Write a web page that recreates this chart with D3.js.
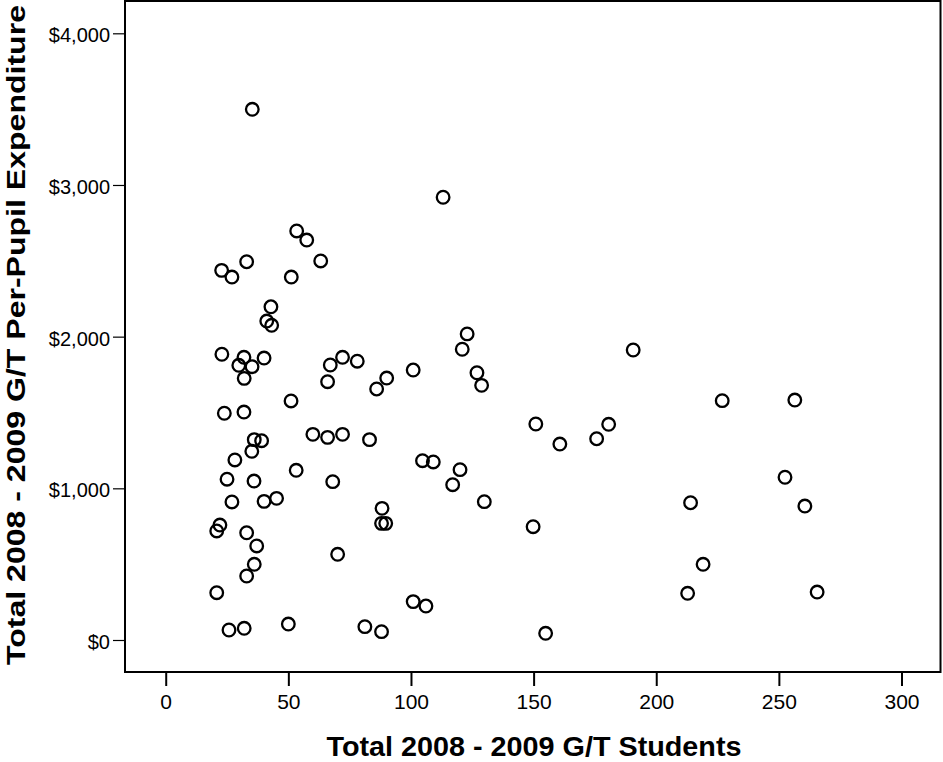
<!DOCTYPE html>
<html>
<head>
<meta charset="utf-8">
<script src="https://cdn.jsdelivr.net/npm/d3@7"></script>
<style>
  body { margin: 0; background: #fff; }
  text { font-family: Arial, "Liberation Sans", sans-serif; fill: #000; }
</style>
</head>
<body>
<div id="chart"></div>
<script>
// G/T students (x) and per-pupil expenditure in dollars (y)
var students = [
    35.3, 113.1, 53.4, 57.5, 33.0, 63.2, 22.8, 27.0, 51.2, 42.9,
    41.2, 43.2, 122.9, 120.9, 190.6, 22.9, 31.9, 40.1, 29.8, 35.2,
    32.0, 67.1, 72.1, 78.1, 66.0, 90.1, 86.0, 100.9, 126.9, 128.8,
    51.1, 23.9, 31.9, 60.0, 66.0, 72.1, 83.1, 36.1, 39.1, 35.1,
    28.2, 104.7, 109.1, 120.0, 117.0, 53.2, 25.0, 36.0, 68.1, 27.0,
    40.1, 45.2, 129.9, 88.2, 88.0, 89.7, 22.1, 20.8, 33.0, 37.1,
    70.1, 36.1, 33.0, 20.8, 25.8, 32.0, 50.0, 81.2, 88.0, 100.9,
    106.1, 150.9, 160.7, 180.6, 175.7, 149.8, 154.9, 226.9, 256.5, 252.5,
    214.0, 260.6, 219.1, 212.8, 265.6
];
var expenditure = [
    3499, 2919, 2697, 2637, 2494, 2499, 2437, 2393, 2393, 2197,
    2103, 2075, 2018, 1917, 1912, 1884, 1864, 1859, 1811, 1802,
    1725, 1813, 1864, 1838, 1703, 1727, 1655, 1780, 1762, 1679,
    1576, 1495, 1503, 1356, 1336, 1356, 1321, 1321, 1314, 1244,
    1187, 1182, 1174, 1123, 1024, 1119, 1060, 1048, 1044, 910,
    914, 934, 912, 868, 769, 769, 758, 719, 707, 620,
    565, 499, 422, 312, 66, 77, 105, 88, 55, 253,
    224, 1424, 1292, 1422, 1327, 747, 44, 1578, 1582, 1073,
    905, 883, 499, 308, 316
];
var xTicks = [0, 50, 100, 150, 200, 250, 300];
var yTicks = [0, 1000, 2000, 3000, 4000];

var xTitle = 'Total 2008 - 2009 G/T Students';
var yTitle = 'Total 2008 - 2009 G/T Per-Pupil Expenditure';

var width = 943;
var height = 762;

var plotLeft = 125, plotRight = 940.5, plotTop = 1, plotBottom = 672;

var svg = d3.select('#chart')
    .append('svg')
    .attr('width', width)
    .attr('height', height);

var x = d3.scaleLinear()
    .domain([-16.6, 315.9])
    .range([plotLeft, plotRight]);

var y = d3.scaleLinear()
    .domain([-211, 4213])
    .range([plotBottom, plotTop]);

// x axis, ticks hang below the frame
var xAxis = svg.append('g')
    .attr('transform', 'translate(0,' + plotBottom + ')')
    .call(d3.axisBottom(x)
        .tickValues(xTicks)
        .tickSize(14)
        .tickPadding(8)
        .tickFormat(d3.format('d')));
xAxis.select('.domain').remove();
xAxis.selectAll('line').attr('stroke', '#000').attr('stroke-width', 2);
xAxis.selectAll('text')
    .attr('font-size', '21px')
    .attr('font-family', 'Arial, "Liberation Sans", sans-serif');

// y axis
var yAxis = svg.append('g')
    .attr('transform', 'translate(' + plotLeft + ',0)')
    .call(d3.axisLeft(y)
        .tickValues(yTicks)
        .tickSize(12)
        .tickPadding(3)
        .tickFormat(function(d) { return '$' + d3.format(',')(d); }));
yAxis.select('.domain').remove();
yAxis.selectAll('line').attr('stroke', '#000').attr('stroke-width', 1.2);
yAxis.selectAll('text')
    .attr('font-size', '20px')
    .attr('dy', '0.42em')
    .attr('font-family', 'Arial, "Liberation Sans", sans-serif');

// frame around the plot area
svg.append('rect')
    .attr('x', plotLeft)
    .attr('y', plotTop)
    .attr('width', plotRight - plotLeft)
    .attr('height', plotBottom - plotTop)
    .attr('fill', 'none')
    .attr('stroke', '#000')
    .attr('stroke-width', 2);

// points
var points = students.map(function(d, i) {
    return { s: d, e: expenditure[i] };
});

svg.selectAll('circle.pt')
    .data(points)
    .enter()
    .append('circle')
    .attr('class', 'pt')
    .attr('cx', function(d) { return x(d.s); })
    .attr('cy', function(d) { return y(d.e); })
    .attr('r', 6.3)
    .attr('fill', 'none')
    .attr('stroke', '#000')
    .attr('stroke-width', 2.3);

// axis titles
svg.append('text')
    .attr('x', 534)
    .attr('y', 756)
    .attr('text-anchor', 'middle')
    .attr('font-size', '28px')
    .attr('font-weight', 'bold')
    .attr('fill', '#222')
    .attr('textLength', 415)
    .attr('lengthAdjust', 'spacingAndGlyphs')
    .text(xTitle);

svg.append('text')
    .attr('transform', 'translate(25,335) rotate(-90)')
    .attr('text-anchor', 'middle')
    .attr('font-size', '26px')
    .attr('font-weight', 'bold')
    .attr('fill', '#222')
    .attr('textLength', 660)
    .attr('lengthAdjust', 'spacingAndGlyphs')
    .text(yTitle);
</script>
</body>
</html>
